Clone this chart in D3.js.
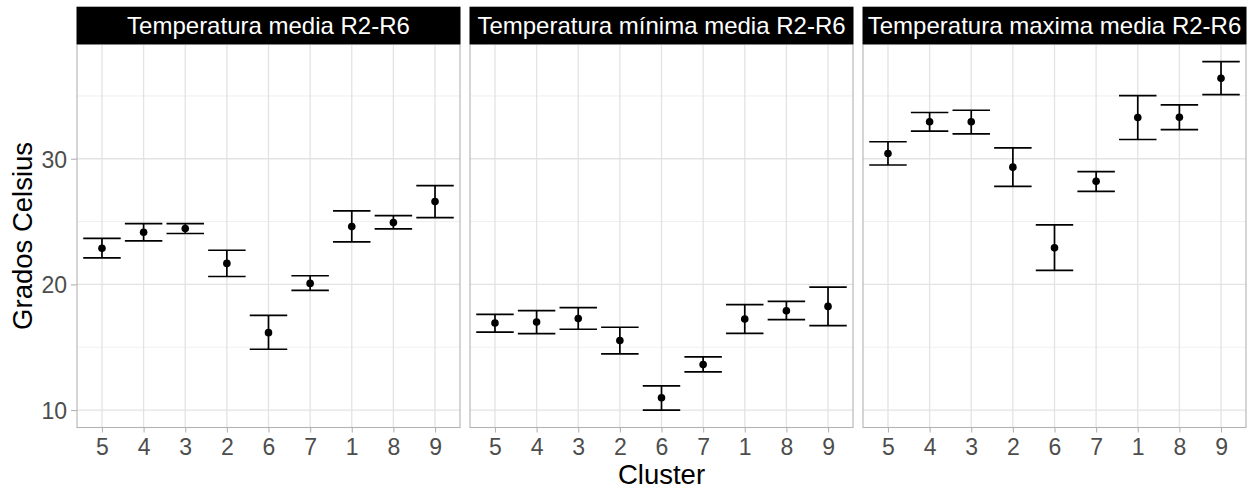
<!DOCTYPE html>
<html>
<head>
<meta charset="utf-8">
<script src="https://cdn.jsdelivr.net/npm/d3@7"></script>
<style>
  html, body { margin: 0; padding: 0; background: #fff; }
  svg { display: block; font-family: "Liberation Sans", Arial, sans-serif; }
</style>
</head>
<body>
<svg id="chart" width="1257" height="490"></svg>
<script>
// Cluster order along the x axis
const clusters = ["5", "4", "3", "2", "6", "7", "1", "8", "9"];

// Facet titles
const facets = [
  "Temperatura media R2-R6",
  "Temperatura mínima media R2-R6",
  "Temperatura maxima media R2-R6"
];

// Mean temperature (°C) per cluster, with lower / upper error limits
const mediaMean  = [22.88, 24.15, 24.44, 21.67, 16.16, 20.08, 24.60, 24.92, 26.59];
const mediaLow   = [22.11, 23.46, 24.05, 20.63, 14.84, 19.52, 23.39, 24.42, 25.32];
const mediaHigh  = [23.67, 24.84, 24.84, 22.72, 17.54, 20.69, 25.85, 25.48, 27.86];

const minimaMean = [16.93, 17.01, 17.28, 15.53, 10.98, 13.62, 17.25, 17.91, 18.25];
const minimaLow  = [16.21, 16.08, 16.43, 14.47, 10.00, 13.04, 16.11, 17.19, 16.72];
const minimaHigh = [17.62, 17.91, 18.15, 16.59, 11.93, 14.23, 18.39, 18.65, 19.79];

const maximaMean = [30.42, 32.94, 32.94, 29.33, 22.91, 28.20, 33.28, 33.30, 36.40];
const maximaLow  = [29.50, 32.20, 31.98, 27.80, 21.11, 27.41, 31.53, 32.32, 35.10];
const maximaHigh = [31.35, 33.68, 33.86, 30.87, 24.74, 28.97, 35.02, 34.29, 37.72];

const yTicks = [10, 20, 30];
const yMinor = [15, 25, 35];

const series = [
  { title: facets[0], mean: mediaMean,  low: mediaLow,  high: mediaHigh },
  { title: facets[1], mean: minimaMean, low: minimaLow, high: minimaHigh },
  { title: facets[2], mean: maximaMean, low: maximaLow, high: maximaHigh }
];

const svg = d3.select("#chart");

// Layout
const left = 77, panelW = 383, gap = 10;
const stripTop = 6.7, stripBottom = 44.3;
const plotTop = 44.3, plotBottom = 427.5;

// Shared y scale with 5% expansion, as a faceted plot would do
const allLow = d3.min(series, s => d3.min(s.low));
const allHigh = d3.max(series, s => d3.max(s.high));
const pad = (allHigh - allLow) * 0.05;
const y = d3.scaleLinear()
  .domain([allLow - pad, allHigh + pad])
  .range([plotBottom, plotTop]);

const gridCol = "#ebebeb";
const borderCol = "#b3b3b3";
const tickTextCol = "#4d4d4d";

series.forEach((s, i) => {
  const x0 = left + i * (panelW + gap);
  const x1 = x0 + panelW;

  // Discrete x positions with 0.6 unit expansion on each side
  const x = d3.scalePoint()
    .domain(clusters)
    .range([x0, x1])
    .padding(0.6);
  const step = x.step();

  const g = svg.append("g");

  // Minor horizontal grid
  g.selectAll(".ymin").data(yMinor).join("line")
    .attr("x1", x0).attr("x2", x1)
    .attr("y1", d => y(d)).attr("y2", d => y(d))
    .attr("stroke", gridCol).attr("stroke-width", 0.8);

  // Major horizontal grid
  g.selectAll(".ymaj").data(yTicks).join("line")
    .attr("x1", x0).attr("x2", x1)
    .attr("y1", d => y(d)).attr("y2", d => y(d))
    .attr("stroke", "#e3e3e3").attr("stroke-width", 1.3);

  // Major vertical grid
  g.selectAll(".xmaj").data(clusters).join("line")
    .attr("x1", d => x(d)).attr("x2", d => x(d))
    .attr("y1", plotTop).attr("y2", plotBottom)
    .attr("stroke", "#e3e3e3").attr("stroke-width", 1.3);

  // Error bars
  const rows = clusters.map((c, j) => ({ c, m: s.mean[j], lo: s.low[j], hi: s.high[j] }));
  const half = step * 0.45;
  const eb = g.selectAll(".eb").data(rows).join("g");
  eb.append("line")
    .attr("x1", d => x(d.c)).attr("x2", d => x(d.c))
    .attr("y1", d => y(d.lo)).attr("y2", d => y(d.hi))
    .attr("stroke", "#000").attr("stroke-width", 1.7);
  eb.append("line")
    .attr("x1", d => x(d.c) - half).attr("x2", d => x(d.c) + half)
    .attr("y1", d => y(d.hi)).attr("y2", d => y(d.hi))
    .attr("stroke", "#000").attr("stroke-width", 1.7);
  eb.append("line")
    .attr("x1", d => x(d.c) - half).attr("x2", d => x(d.c) + half)
    .attr("y1", d => y(d.lo)).attr("y2", d => y(d.lo))
    .attr("stroke", "#000").attr("stroke-width", 1.7);

  // Mean points
  g.selectAll(".pt").data(rows).join("circle")
    .attr("cx", d => x(d.c)).attr("cy", d => y(d.m))
    .attr("r", 3.8).attr("fill", "#000");

  // Panel border
  g.append("rect")
    .attr("x", x0).attr("y", plotTop)
    .attr("width", panelW).attr("height", plotBottom - plotTop)
    .attr("fill", "none").attr("stroke", borderCol).attr("stroke-width", 1.1);

  // Strip
  g.append("rect")
    .attr("x", x0 - 0.5).attr("y", stripTop)
    .attr("width", panelW + 1).attr("height", stripBottom - stripTop)
    .attr("fill", "#000");
  g.append("text")
    .attr("x", (x0 + x1) / 2).attr("y", 34.3)
    .attr("text-anchor", "middle")
    .attr("fill", "#fff")
    .attr("font-size", 24)
    .text(s.title);

  // X axis
  const xAxis = d3.axisBottom(x).tickSize(5).tickPadding(4);
  const ax = g.append("g")
    .attr("transform", `translate(0,${plotBottom})`)
    .call(xAxis);
  ax.select(".domain").remove();
  ax.selectAll(".tick line").attr("stroke", borderCol).attr("stroke-width", 1.1);
  ax.selectAll(".tick text")
    .attr("fill", tickTextCol)
    .attr("font-size", 23)
    .attr("font-family", "Liberation Sans, Arial, sans-serif")
    .attr("dy", null)
    .attr("y", 27);

  // Y axis on first panel
  if (i === 0) {
    const yAxis = d3.axisLeft(y).tickValues(yTicks).tickSize(6).tickPadding(4);
    const ay = g.append("g")
      .attr("transform", `translate(${x0},0)`)
      .call(yAxis);
    ay.select(".domain").remove();
    ay.selectAll(".tick line").attr("stroke", borderCol).attr("stroke-width", 1.1);
    ay.selectAll(".tick text")
      .attr("fill", tickTextCol)
      .attr("font-size", 23)
      .attr("font-family", "Liberation Sans, Arial, sans-serif")
      .attr("dy", "0.36em");
  }
});

// Axis titles
svg.append("text")
  .attr("x", left + (3 * panelW + 2 * gap) / 2)
  .attr("y", 484)
  .attr("text-anchor", "middle")
  .attr("font-size", 27.5)
  .attr("fill", "#000")
  .text("Cluster");

svg.append("text")
  .attr("transform", `translate(31.5,${(plotTop + plotBottom) / 2}) rotate(-90)`)
  .attr("text-anchor", "middle")
  .attr("font-size", 27.5)
  .attr("fill", "#000")
  .text("Grados Celsius");
</script>
</body>
</html>
